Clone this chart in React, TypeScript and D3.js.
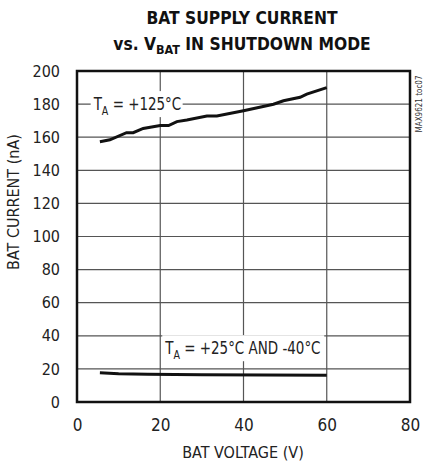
import React, { useRef, useEffect } from "react";
import * as d3 from "d3";

// T_A = +125°C
const hotVolts = [5.5, 7.9, 11.9, 13.5, 15.9, 20, 22, 24, 26.4, 31.2, 33.6, 40, 47.2, 49.6, 53.6, 55.2, 60];
const hotCurrent = [157.3, 158.4, 162.7, 162.7, 165.3, 167, 167, 169.4, 170.4, 172.8, 172.8, 176, 179.9, 182, 184.1, 186, 190];

// T_A = +25°C and -40°C
const coldVolts = [5.5, 10, 17, 30, 45, 60];
const coldCurrent = [17.6, 17.1, 16.8, 16.5, 16.3, 16.2];

const xTicks = [0, 20, 40, 60, 80];
const yTicks = [0, 20, 40, 60, 80, 100, 120, 140, 160, 180, 200];

const FONT = "'Liberation Sans Narrow', 'DejaVu Sans Condensed', 'Liberation Sans', sans-serif";

const W = 427;
const H = 461;
const margin = { top: 71, right: 17, bottom: 59, left: 77 };
const width = W - margin.left - margin.right;
const height = H - margin.top - margin.bottom;

const x = d3.scaleLinear().domain([0, 80]).range([0, width]);
const y = d3.scaleLinear().domain([0, 200]).range([height, 0]);

const App = () => {
  const ref = useRef<SVGGElement>(null);

  useEffect(() => {
    const root = d3.select(ref.current);
    root.selectAll("*").remove();

    // title
    const title = root.append("text")
      .attr("text-anchor", "middle")
      .attr("font-weight", "bold")
      .attr("font-size", 18)
      .attr("fill", "#111")
      .attr("transform", "translate(242,0) scale(0.96,1)");
    title.append("tspan").attr("x", 0).attr("y", 24).text("BAT SUPPLY CURRENT");
    const l2 = title.append("tspan").attr("x", 0).attr("y", 50);
    l2.append("tspan").text("vs. V");
    l2.append("tspan").attr("font-size", 13).attr("dy", 4).text("BAT");
    l2.append("tspan").attr("dy", -4).text(" IN SHUTDOWN MODE");

    const g = root.append("g").attr("transform", `translate(${margin.left},${margin.top})`);

    // axes labels
    const xAxis = g.append("g")
      .attr("transform", `translate(0,${height})`)
      .call(d3.axisBottom(x).tickValues(xTicks).tickSize(0).tickPadding(17));
    xAxis.select(".domain").remove();
    xAxis.selectAll("text").attr("font-size", 17).attr("fill", "#222").style("font-family", FONT);

    const yAxis = g.append("g")
      .call(d3.axisLeft(y).tickValues(yTicks).tickSize(0).tickPadding(17));
    yAxis.select(".domain").remove();
    yAxis.selectAll("text").attr("font-size", 16).attr("fill", "#222").style("font-family", FONT);

    root.append("text")
      .attr("x", 243).attr("y", 458)
      .attr("text-anchor", "middle")
      .attr("font-size", 16).attr("fill", "#222")
      .text("BAT VOLTAGE (V)");

    root.append("text")
      .attr("transform", "translate(19,202) rotate(-90)")
      .attr("text-anchor", "middle")
      .attr("font-size", 16).attr("fill", "#222")
      .text("BAT CURRENT (nA)");

    root.append("text")
      .attr("transform", "translate(422,104) rotate(-90)")
      .attr("text-anchor", "middle")
      .attr("font-size", 8).attr("fill", "#333")
      .text("MAX9621 toc07");

    // series labels with white backing
    const label = (vx: number, vy: number, w: number, main: string, rest: string) => {
      const lg = g.append("g").attr("transform", `translate(${x(vx)},${y(vy)})`);
      lg.append("rect").attr("x", -3).attr("y", -13).attr("width", w).attr("height", 26).attr("fill", "#fff");
      const t = lg.append("text").attr("y", 6).attr("font-size", 17).attr("fill", "#222")
        .attr("transform", "scale(0.88,1)");
      t.append("tspan").text(main);
      t.append("tspan").attr("font-size", 12).attr("dy", 5).text("A");
      t.append("tspan").attr("dy", -5).text(rest);
    };
    label(4, 180, 92, "T", " = +125°C");
    label(21.2, 32.5, 162, "T", " = +25°C AND -40°C");

    const line = d3.line<[number, number]>()
      .x(d => x(d[0]))
      .y(d => y(d[1]));

    g.append("path")
      .datum(hotVolts.map((v, i) => [v, hotCurrent[i]] as [number, number]))
      .attr("fill", "none").attr("stroke", "#111").attr("stroke-width", 3)
      .attr("d", line);
    g.append("path")
      .datum(coldVolts.map((v, i) => [v, coldCurrent[i]] as [number, number]))
      .attr("fill", "none").attr("stroke", "#111").attr("stroke-width", 3)
      .attr("d", line);

    // frame
    g.append("rect")
      .attr("width", width).attr("height", height)
      .attr("fill", "none").attr("stroke", "#111").attr("stroke-width", 2.5);
  }, []);

  return (
    <svg
      width={W}
      height={H}
      style={{ position: "absolute", left: 0, top: 0, fontFamily: FONT, fontStretch: "condensed" }}
    >
      <g transform={`translate(${margin.left},${margin.top})`}>
        {xTicks.map(d => (
          <line key={"x" + d} x1={x(d)} x2={x(d)} y1={0} y2={height} stroke="#555" strokeWidth={1.2} />
        ))}
        {yTicks.map(d => (
          <line key={"y" + d} x1={0} x2={width} y1={y(d)} y2={y(d)} stroke="#555" strokeWidth={1.2} />
        ))}
      </g>
      <g ref={ref}></g>
    </svg>
  );
};

export default App;
